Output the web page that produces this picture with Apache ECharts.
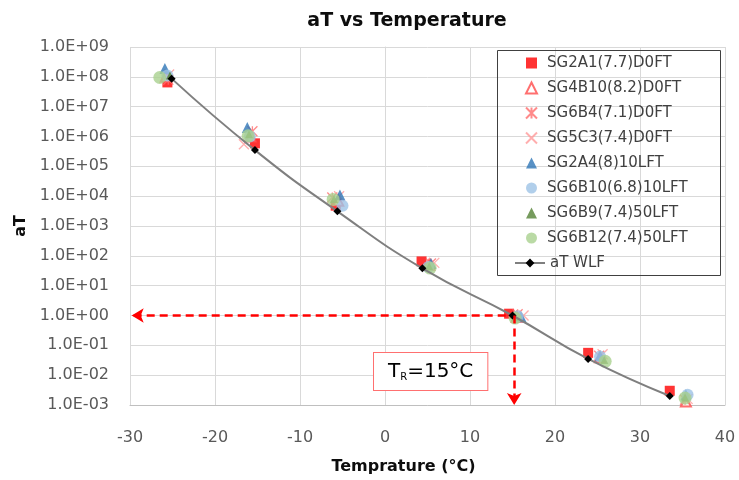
<!DOCTYPE html>
<html>
<head>
<meta charset="utf-8">
<script src="https://cdn.jsdelivr.net/npm/echarts@6/dist/echarts.min.js"></script>
<style>
html, body { margin: 0; padding: 0; background: #fff; }
#atChart { width: 739px; height: 480px; }
</style>
</head>
<body>
<div id="atChart"></div>
<script>
// values: [temperature, aT]
var sg2a1  = [[-25.6, 6.5e7], [-15.3, 5.9e5], [-5.8, 4.8e3], [4.3, 6.5e1], [14.6, 1.15], [23.9, 5.6e-2], [33.5, 3.0e-3]];
var sg4b10 = [[-25.8, 1.0e8], [-15.8, 1.0e6], [-5.5, 7.0e3], [5.2, 5.0e1], [15.5, 0.9], [25.3, 4.0e-2], [35.4, 1.3e-3]];
var sg6b4  = [[-25.5, 8.0e7], [-15.6, 1.5e6], [-6.2, 9.0e3], [5.4, 5.5e1], [15.6, 1.1], [25.2, 4.5e-2], [35.3, 1.5e-3]];
var sg5c3  = [[-25.4, 1.2e8], [-16.6, 5.5e5], [-5.4, 1.0e4], [5.8, 5.8e1], [16.3, 1.0], [25.6, 5.0e-2], [35.6, 1.6e-3]];
var sg2a4  = [[-25.9, 1.9e8], [-16.2, 2.0e6], [-5.3, 1.1e4], [5.4, 5.5e1], [16.0, 0.9], [25.3, 4.5e-2], [35.4, 2.2e-3]];
var sg6b10 = [[-25.6, 1.1e8], [-15.9, 1.0e6], [-5.0, 4.8e3], [5.1, 4.2e1], [15.6, 0.95], [25.3, 4.2e-2], [35.6, 2.2e-3]];
var sg6b9  = [[-25.3, 1.1e8], [-16.0, 1.2e6], [-6.0, 8.0e3], [5.2, 4.5e1], [15.3, 0.9], [25.8, 3.2e-2], [35.3, 1.8e-3]];
var sg6b12 = [[-26.5, 9.5e7], [-16.1, 1.05e6], [-6.1, 7.8e3], [5.3, 3.9e1], [15.3, 0.82], [25.9, 2.9e-2], [35.3, 1.7e-3]];
var atWlf  = [[-25.1, 8.7e7], [-15.3, 3.5e5], [-5.6, 3.1e3], [4.4, 3.8e1], [15.0, 1.0], [23.9, 3.5e-2], [33.5, 2.0e-3]];

var seriesNames = ['SG2A1(7.7)D0FT', 'SG4B10(8.2)D0FT', 'SG6B4(7.1)D0FT', 'SG5C3(7.4)D0FT',
	'SG2A4(8)10LFT', 'SG6B10(6.8)10LFT', 'SG6B9(7.4)50LFT', 'SG6B12(7.4)50LFT', 'aT WLF'];

// reference temperature arrows (dashed, red)
var arrowH = [[14.2, 1], [-29.8, 1]];
var arrowV = [[15.2, 1], [15.2, 0.001]];

var font = 'DejaVu Sans';

function sciLabel(v){
	var e = Math.round(Math.log(v) / Math.LN10);
	var a = Math.abs(e);
	return '1.0E' + (e < 0 ? '-' : '+') + (a < 10 ? '0' + a : a);
}

function scatter(name, data, symbol, size, style){
	return {
		name: name,
		type: 'scatter',
		data: data,
		symbol: symbol,
		symbolSize: size,
		itemStyle: style
	};
}

var myChart = echarts.init(document.getElementById('atChart'));

var asterisk = 'path://M0,0L10,10M10,0L0,10M5,0L5,10';
var cross = 'path://M0,0L10,10M10,0L0,10';

var seriesArray = [
	scatter(seriesNames[0], sg2a1, 'rect', 10, {color: '#ff0000'}),
	scatter(seriesNames[1], sg4b10, 'emptyTriangle', 10, {color: '#ff4b4b', borderColor: '#ff4b4b', borderWidth: 1}),
	scatter(seriesNames[2], sg6b4, asterisk, 10, {color: 'rgba(0,0,0,0)', borderColor: '#ff6d6d', borderWidth: 1.3}),
	scatter(seriesNames[3], sg5c3, cross, 10, {color: 'rgba(0,0,0,0)', borderColor: '#ff9a9a', borderWidth: 1.3}),
	scatter(seriesNames[4], sg2a4, 'triangle', 11, {color: '#2e75b6'}),
	scatter(seriesNames[5], sg6b10, 'circle', 12, {color: '#9dc3e6'}),
	scatter(seriesNames[6], sg6b9, 'triangle', 8, {color: '#548235'}),
	scatter(seriesNames[7], sg6b12, 'circle', 13, {color: '#a9d18e'}),
	{
		name: seriesNames[8],
		type: 'line',
		data: atWlf,
		smooth: true,
		symbol: 'diamond',
		symbolSize: 8,
		itemStyle: {color: '#000000'},
		lineStyle: {color: '#7f7f7f', width: 2},
		markLine: {
			silent: true,
			symbol: ['none', 'arrow'],
			symbolSize: [11, 12],
			label: {show: false},
			lineStyle: {color: '#ff0000', type: [8, 5], width: 2.5},
			data: [
				[{coord: arrowH[0]}, {coord: arrowH[1]}],
				[{coord: arrowV[0]}, {coord: arrowV[1]}]
			]
		}
	}
];

var legendText = {fontFamily: font, fontSize: 15, color: '#404040', lineHeight: 18};

var option = {
	backgroundColor: '#ffffff',
	animation: false,
	textStyle: {fontFamily: font},
	title: {
		text: 'aT vs Temperature',
		left: 402,
		textAlign: 'center',
		top: 7,
		textStyle: {fontFamily: font, fontSize: 19, fontWeight: 'bold', color: '#0d0d0d'}
	},
	// markers and the WLF line need different icon widths, so two legends
	legend: [{
		data: seriesNames.slice(0, 8),
		orient: 'vertical',
		left: 525,
		top: 54,
		padding: 0,
		itemWidth: 11,
		itemHeight: 11,
		itemGap: 7,
		textStyle: {fontFamily: font, fontSize: 15, color: '#404040', lineHeight: 18, padding: [0, 0, 0, 5]}
	}, {
		data: seriesNames.slice(8),
		orient: 'vertical',
		left: 514,
		top: 254,
		padding: 0,
		itemWidth: 30,
		itemHeight: 11,
		textStyle: legendText
	}],
	grid: {
		left: 130,
		right: 14,
		top: 47,
		bottom: 69
	},
	xAxis: {
		type: 'value',
		min: -30,
		max: 40,
		interval: 10,
		name: 'Temprature (°C)',
		nameLocation: 'middle',
		nameGap: 54,
		nameTextStyle: {fontFamily: font, fontSize: 16, fontWeight: 'bold', color: '#0d0d0d', padding: [0, 48, 0, 0]},
		axisLine: {onZero: false, lineStyle: {color: '#bfbfbf'}},
		axisTick: {show: false},
		axisLabel: {fontSize: 16, color: '#595959', margin: 25},
		splitLine: {show: true, lineStyle: {color: '#d9d9d9'}}
	},
	yAxis: {
		type: 'log',
		logBase: 10,
		min: 0.001,
		max: 1e9,
		interval: 1,
		name: 'aT',
		nameLocation: 'middle',
		nameGap: 98,
		nameTextStyle: {fontFamily: font, fontSize: 16, fontWeight: 'bold', color: '#0d0d0d'},
		axisLine: {show: true, lineStyle: {color: '#d9d9d9'}},
		axisTick: {show: false},
		axisLabel: {fontSize: 16, color: '#595959', margin: 21, formatter: sciLabel},
		splitLine: {show: true, lineStyle: {color: '#d9d9d9'}},
		minorSplitLine: {show: false}
	},
	graphic: [
		{
			type: 'rect',
			left: 497,
			top: 50,
			shape: {width: 223, height: 225},
			style: {fill: 'rgba(0,0,0,0)', stroke: '#404040', lineWidth: 1},
			z: 100
		},
		{
			type: 'text',
			left: 373,
			top: 352,
			z: 100,
			style: {
				text: '{t|T}{s|R}{t|=15°C}',
				backgroundColor: '#ffffff',
				borderColor: '#ff7070',
				borderWidth: 1,
				padding: [9, 14, 8, 14],
				rich: {
					t: {fontFamily: font, fontSize: 20, color: '#ff0000'},
					s: {fontFamily: font, fontSize: 10, color: '#ff0000', verticalAlign: 'bottom', padding: [10, 0, 0, 0]}
				}
			}
		}
	],
	series: seriesArray
};
myChart.setOption(option);
</script>
</body>
</html>
